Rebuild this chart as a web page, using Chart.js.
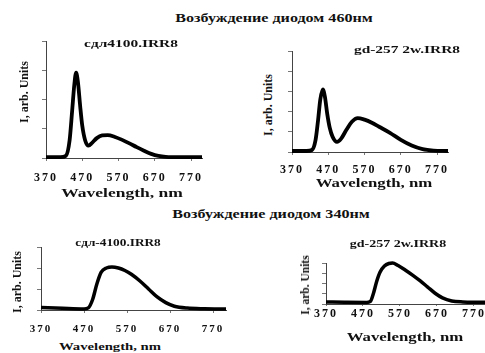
<!DOCTYPE html>
<html>
<head>
<meta charset="utf-8">
<script src="https://cdn.jsdelivr.net/npm/chart.js@4"></script>
<style>
  body { margin: 0; background: #fff; }
  #wrap { position: relative; width: 485px; height: 353px; overflow: hidden; background: #fff; }
  canvas { position: absolute; }
  .t {
    position: absolute; white-space: nowrap; color: #111;
    font-family: "Liberation Serif", "Times New Roman", serif; font-weight: bold; z-index: 2;
  }
  .h { transform: translate(-50%, -50%) scaleX(1.4); }
  .v { transform: translate(-50%, -50%) rotate(-90deg); }
</style>
</head>
<body>
<div id="wrap">
  <div class="t h" style="left:274px; top:18px; font-size:11.5px;">Возбуждение диодом 460нм</div>
  <div class="t h" style="left:271px; top:214px; font-size:11.5px;">Возбуждение диодом 340нм</div>

  <div class="t h" style="left:131px; top:43px; font-size:11px;">сдл4100.IRR8</div>
  <div class="t h" style="left:407px; top:49px; font-size:11px;">gd-257 2w.IRR8</div>
  <div class="t h" style="left:118px; top:243px; font-size:9.5px;">сдл-4100.IRR8</div>
  <div class="t h" style="left:398px; top:243px; font-size:10px;">gd-257 2w.IRR8</div>

  <div class="t v" style="left:24px; top:92px; font-size:12px;">I, arb. Units</div>
  <div class="t v" style="left:268px; top:105px; font-size:12px;">I, arb. Units</div>
  <div class="t v" style="left:17px; top:282px; font-size:12px;">I, arb. Units</div>
  <div class="t v" style="left:305px; top:285px; font-size:11.5px;">I, arb. Units</div>

  <div class="t h" style="left:122px; top:193px; font-size:12.5px;">Wavelength, nm</div>
  <div class="t h" style="left:374px; top:183px; font-size:12px;">Wavelength, nm</div>
  <div class="t h" style="left:110px; top:346px; font-size:10.5px;">Wavelength, nm</div>
  <div class="t h" style="left:405px; top:337px; font-size:12px;">Wavelength, nm</div>

  <canvas id="c1"></canvas>
  <canvas id="c2"></canvas>
  <canvas id="c3"></canvas>
  <canvas id="c4"></canvas>
</div>
<script>
// x ticks shared by all four panels
const xTickValues = [370, 470, 570, 670, 770];

// 460 nm excitation, сдл4100
const wl460a = [370, 410, 425, 435, 442, 448, 453, 458, 464, 470, 478, 487, 497, 510, 525, 540, 560, 580, 600, 620, 640, 660, 680, 700, 740, 800];
const int460a = [0.03, 0.03, 0.08, 0.6, 1.6, 2.5, 2.92, 2.6, 1.8, 1.1, 0.6, 0.42, 0.52, 0.68, 0.77, 0.78, 0.72, 0.62, 0.5, 0.37, 0.25, 0.14, 0.07, 0.04, 0.03, 0.03];
const yTicks460a = [0, 1, 2, 3, 4];

// 460 nm excitation, gd-257 2w
const wl460b = [370, 410, 425, 435, 442, 448, 455, 461, 467, 474, 482, 494, 505, 520, 535, 551, 570, 590, 610, 640, 670, 700, 730, 760, 800];
const int460b = [0.05, 0.05, 0.1, 0.6, 1.6, 2.6, 3.1, 2.7, 1.9, 1.2, 0.75, 0.5, 0.65, 1.1, 1.5, 1.68, 1.6, 1.45, 1.25, 0.95, 0.6, 0.32, 0.14, 0.07, 0.05];
const yTicks460b = [0, 1, 2, 3, 4, 5];

// 340 nm excitation, сдл-4100
const wl340a = [370, 420, 470, 480, 490, 500, 510, 522, 535, 550, 565, 580, 600, 620, 640, 660, 680, 710, 750, 800];
const int340a = [0.12, 0.08, 0.05, 0.1, 0.5, 1.25, 1.8, 2.0, 2.05, 2.0, 1.88, 1.7, 1.38, 1.0, 0.62, 0.35, 0.18, 0.09, 0.06, 0.05];
const yTicks340a = [0, 1, 2, 3];

// 340 nm excitation, gd-257 2w
const wl340b = [370, 420, 480, 490, 498, 507, 516, 528, 540, 550, 565, 585, 605, 625, 645, 665, 685, 710, 740, 770, 800];
const int340b = [0.2, 0.17, 0.15, 0.25, 1.0, 2.2, 3.1, 3.7, 3.95, 4.0, 3.75, 3.3, 2.8, 2.25, 1.65, 1.05, 0.6, 0.3, 0.2, 0.18, 0.18];
const yTicks340b = [0, 1, 2, 3, 4];

// stretched look of the scanned labels
const spacingPlugin = {
  id: "spacing",
  beforeDraw(chart, args, opts) {
    chart.ctx.letterSpacing = opts.px + "px";
  },
};

function makeChart(id, box, area, xs, ys, yTicks, tick) {
  const canvas = document.getElementById(id);
  canvas.width = box.r - box.l;
  canvas.height = box.b - box.t;
  canvas.style.left = box.l + "px";
  canvas.style.top = box.t + "px";

  const points = xs.map((x, i) => ({ x: x, y: ys[i] }));

  new Chart(canvas.getContext("2d"), {
    type: "line",
    data: {
      datasets: [
        {
          data: points,
          borderColor: "#000",
          borderWidth: tick.line,
          pointRadius: 0,
          cubicInterpolationMode: "monotone",
          clip: false,
        },
      ],
    },
    options: {
      responsive: false,
      animation: false,
      layout: {
        padding: { top: area.t - box.t, right: box.r - area.r, left: 0, bottom: 0 },
      },
      plugins: {
        legend: { display: false },
        tooltip: { enabled: false },
        spacing: { px: tick.spacing },
      },
      scales: {
        x: {
          type: "linear",
          min: 370,
          max: 800,
          afterBuildTicks: (s) => { s.ticks = xTickValues.map((v) => ({ value: v })); },
          afterFit: (s) => {
            s.height = box.b - area.b;
            s.paddingLeft = 0;
            s.paddingRight = 0;
          },
          grid: { drawOnChartArea: false, tickLength: tick.len, color: "#777" },
          border: { color: "#444", width: 1 },
          ticks: {
            autoSkip: false,
            maxRotation: 0,
            padding: tick.pad,
            color: "#111",
            font: { family: "Liberation Serif", weight: "bold", size: tick.size },
          },
        },
        y: {
          min: 0,
          max: yTicks[yTicks.length - 1],
          afterBuildTicks: (s) => { s.ticks = yTicks.map((v) => ({ value: v })); },
          afterFit: (s) => {
            s.width = area.l - box.l;
            s.paddingTop = 0;
            s.paddingBottom = 0;
          },
          grid: { drawOnChartArea: false, tickLength: 4, color: "#777" },
          border: { color: "#444", width: 1 },
          ticks: { display: false },
        },
      },
    },
    plugins: [spacingPlugin],
  });
}

makeChart("c1", { l: 30, t: 36, r: 215, b: 195 }, { l: 46, t: 41, r: 202, b: 158 },
  wl460a, int460a, yTicks460a, { size: 12, spacing: 2, pad: 10, len: 3, line: 3.8 });
makeChart("c2", { l: 276, t: 46, r: 462, b: 185 }, { l: 292, t: 51, r: 448, b: 152 },
  wl460b, int460b, yTicks460b, { size: 12, spacing: 2, pad: 8, len: 3, line: 3.8 });
makeChart("c3", { l: 25, t: 242, r: 240, b: 340 }, { l: 41, t: 247, r: 226, b: 310 },
  wl340a, int340a, yTicks340a, { size: 11, spacing: 2, pad: 10, len: 3, line: 3.5 });
makeChart("c4", { l: 310, t: 258, r: 485, b: 330 }, { l: 326, t: 263, r: 485, b: 304 },
  wl340b, int340b, yTicks340b, { size: 12, spacing: 2, pad: 1, len: 2, line: 3.5 });
</script>
</body>
</html>
